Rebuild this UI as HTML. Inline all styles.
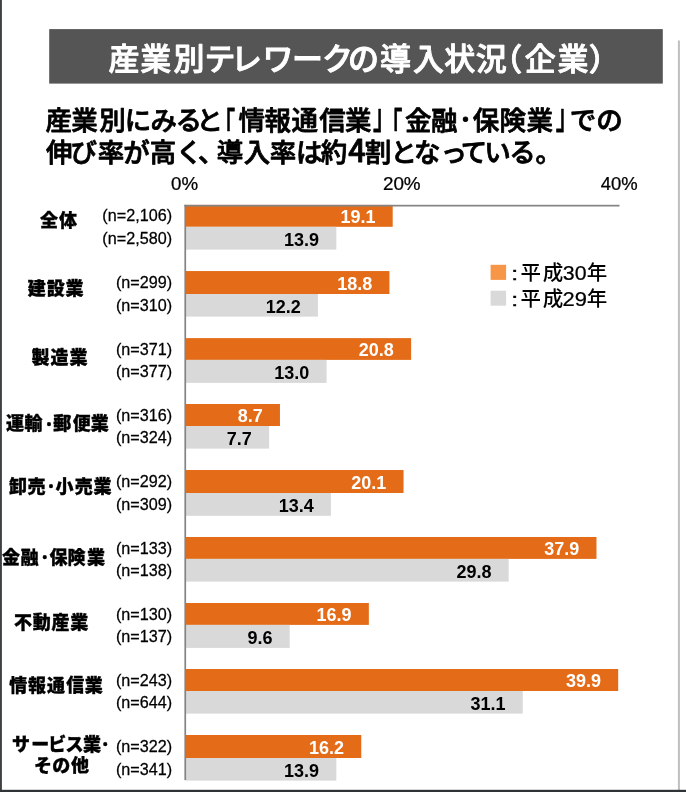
<!DOCTYPE html>
<html lang="ja"><head><meta charset="utf-8"><title>産業別テレワークの導入状況（企業）</title>
<style>
html,body{margin:0;padding:0;background:#fff;}
body{width:686px;height:792px;overflow:hidden;position:relative;}
svg{position:absolute;left:0;top:0;display:block;}
svg text{font-family:"Liberation Sans", "Noto Sans CJK JP", sans-serif;white-space:pre;}
</style></head><body>
<svg width="686" height="792" viewBox="0 0 686 792">
<rect x="49.2" y="29.1" width="613.6" height="54.5" fill="#555555"/>
<rect x="677.9" y="40.5" width="2" height="750" fill="#bfbfbf"/>
<rect x="185.65" y="204.9" width="207.04" height="21.90" fill="#e46c18"/>
<rect x="185.65" y="226.8" width="150.68" height="22.80" fill="#d9d9d9"/>
<rect x="185.65" y="271.05" width="203.79" height="22.95" fill="#e46c18"/>
<rect x="185.65" y="294.0" width="132.25" height="22.60" fill="#d9d9d9"/>
<rect x="185.65" y="338.1" width="225.47" height="21.80" fill="#e46c18"/>
<rect x="185.65" y="359.9" width="140.92" height="23.00" fill="#d9d9d9"/>
<rect x="185.65" y="404.0" width="94.31" height="22.00" fill="#e46c18"/>
<rect x="185.65" y="426.0" width="83.47" height="22.60" fill="#d9d9d9"/>
<rect x="185.65" y="470.0" width="217.88" height="23.00" fill="#e46c18"/>
<rect x="185.65" y="493.0" width="145.26" height="22.80" fill="#d9d9d9"/>
<rect x="185.65" y="537.0" width="410.84" height="21.90" fill="#e46c18"/>
<rect x="185.65" y="558.9" width="323.03" height="22.70" fill="#d9d9d9"/>
<rect x="185.65" y="603.0" width="183.20" height="21.90" fill="#e46c18"/>
<rect x="185.65" y="624.9" width="104.06" height="23.00" fill="#d9d9d9"/>
<rect x="185.65" y="669.0" width="432.52" height="22.00" fill="#e46c18"/>
<rect x="185.65" y="691.0" width="337.12" height="22.60" fill="#d9d9d9"/>
<rect x="185.65" y="735.0" width="175.61" height="23.00" fill="#e46c18"/>
<rect x="185.65" y="758.0" width="150.68" height="22.60" fill="#d9d9d9"/>
<rect x="184.4" y="204.8" width="435.1" height="1.7" fill="#848484"/>
<rect x="184.4" y="204.8" width="1.7" height="575.3" fill="#848484"/>
<rect x="490.6" y="264.8" width="15.5" height="15.1" fill="#f79646"/>
<rect x="490.6" y="290.7" width="15.5" height="15" fill="#d9d9d9"/>
<text x="108.4 140.2 173.5 204.6 231.1 262.6 292.1 321.9 348.0 379.9 412.9 444.3 475.8 491.2 524.8 557.4 588.8" y="70.3" font-size="31" font-weight="500" fill="#fff" stroke="#fff" stroke-width="0.9" stroke-linejoin="round">産業別テレワークの導入状況（企業）</text>
<text x="45.5 71.3 99.2 124.8 150.5 175.5 196.5" y="129.7" font-size="26.5" font-weight="500" fill="#000" stroke="#000" stroke-width="0.8" stroke-linejoin="round">産業別にみると</text>
<text transform="translate(213.39,137.6) scale(0.62,1)" font-size="35" font-weight="500" fill="#000" style="font-family:'Noto Sans CJK JP', 'Liberation Sans', sans-serif" stroke="#000" stroke-width="0.8" stroke-linejoin="round">「</text>
<text x="238.5 264.6 291.6 319.2 344.9" y="129.7" font-size="26.5" font-weight="500" fill="#000" stroke="#000" stroke-width="0.8" stroke-linejoin="round">情報通信業</text>
<text transform="translate(373.06,129.1) scale(0.62,1)" font-size="35" font-weight="500" fill="#000" style="font-family:'Noto Sans CJK JP', 'Liberation Sans', sans-serif" stroke="#000" stroke-width="0.8" stroke-linejoin="round">」</text>
<text transform="translate(380.84,137.6) scale(0.62,1)" font-size="35" font-weight="500" fill="#000" style="font-family:'Noto Sans CJK JP', 'Liberation Sans', sans-serif" stroke="#000" stroke-width="0.8" stroke-linejoin="round">「</text>
<text x="405.0 431.1" y="129.7" font-size="26.5" font-weight="500" fill="#000" stroke="#000" stroke-width="0.8" stroke-linejoin="round">金融</text>
<text x="455.4" y="127.3" font-size="20" font-weight="500" fill="#000" style="font-family:'Noto Sans CJK JP', 'Liberation Sans', sans-serif" stroke="#000" stroke-width="0.8" stroke-linejoin="round">・</text>
<text x="472.7 499.4 526.4" y="129.7" font-size="26.5" font-weight="500" fill="#000" stroke="#000" stroke-width="0.8" stroke-linejoin="round">保険業</text>
<text transform="translate(555.76,129.1) scale(0.62,1)" font-size="35" font-weight="500" fill="#000" style="font-family:'Noto Sans CJK JP', 'Liberation Sans', sans-serif" stroke="#000" stroke-width="0.8" stroke-linejoin="round">」</text>
<text x="569.8 596.2" y="129.7" font-size="26.5" font-weight="500" fill="#000" stroke="#000" stroke-width="0.8" stroke-linejoin="round">での</text>
<text x="45.9 70.4 97.8 123.2 149.8 176.0 198.0 216.8 243.7 269.8 296.0 320.7" y="162.0" font-size="26.5" font-weight="500" fill="#000" stroke="#000" stroke-width="0.8" stroke-linejoin="round">伸び率が高く、導入率は約</text>
<text x="348.2" y="162.3" font-size="30.5" font-weight="500" fill="#000" style="font-family:'Noto Sans CJK JP', 'Liberation Sans', sans-serif" stroke="#000" stroke-width="0.8" stroke-linejoin="round">4</text>
<text x="364.8 390.6 414.1 440.4 460.8 484.2 509.2 535.5" y="162.0" font-size="26.5" font-weight="500" fill="#000" stroke="#000" stroke-width="0.8" stroke-linejoin="round">割となっている。</text>
<text x="40.0 59.0" y="226.5" font-size="18" font-weight="900" fill="#000" stroke="#000" stroke-width="0.35">全体</text>
<text x="27.8 46.8 65.6" y="295.2" font-size="18" font-weight="900" fill="#000" stroke="#000" stroke-width="0.35">建設業</text>
<text x="31.4 50.6 69.5" y="363.6" font-size="18" font-weight="900" fill="#000" stroke="#000" stroke-width="0.35">製造業</text>
<text x="5.9 24.6" y="430.3" font-size="18" font-weight="900" fill="#000" stroke="#000" stroke-width="0.35">運輸</text>
<text x="42.2" y="428.5" font-size="13.5" font-weight="900" fill="#000" style="font-family:'Noto Sans CJK JP', 'Liberation Sans', sans-serif" stroke="#000" stroke-width="0.35">・</text>
<text x="53.2 72.7 90.7" y="430.3" font-size="18" font-weight="900" fill="#000" stroke="#000" stroke-width="0.35">郵便業</text>
<text x="8.9 27.4" y="492.7" font-size="18" font-weight="900" fill="#000" stroke="#000" stroke-width="0.35">卸売</text>
<text x="44.3" y="490.9" font-size="13.5" font-weight="900" fill="#000" style="font-family:'Noto Sans CJK JP', 'Liberation Sans', sans-serif" stroke="#000" stroke-width="0.35">・</text>
<text x="55.6 74.7 93.6" y="492.7" font-size="18" font-weight="900" fill="#000" stroke="#000" stroke-width="0.35">小売業</text>
<text x="2.0 20.5" y="563.5" font-size="18" font-weight="900" fill="#000" stroke="#000" stroke-width="0.35">金融</text>
<text x="37.9" y="561.7" font-size="13.5" font-weight="900" fill="#000" style="font-family:'Noto Sans CJK JP', 'Liberation Sans', sans-serif" stroke="#000" stroke-width="0.35">・</text>
<text x="49.5 67.6 87.0" y="563.5" font-size="18" font-weight="900" fill="#000" stroke="#000" stroke-width="0.35">保険業</text>
<text x="13.9 32.8 51.6 70.3" y="628.5" font-size="18" font-weight="900" fill="#000" stroke="#000" stroke-width="0.35">不動産業</text>
<text x="9.3 27.9 47.0 66.2 84.8" y="691.7" font-size="18" font-weight="900" fill="#000" stroke="#000" stroke-width="0.35">情報通信業</text>
<text x="11.9 31.2 48.2 65.6 83.1" y="751.0" font-size="18" font-weight="900" fill="#000" stroke="#000" stroke-width="0.35">サービス業</text>
<text x="98.5" y="749.2" font-size="13.5" font-weight="900" fill="#000" style="font-family:'Noto Sans CJK JP', 'Liberation Sans', sans-serif" stroke="#000" stroke-width="0.35">・</text>
<text x="34.1 52.2 70.9" y="772.0" font-size="18" font-weight="900" fill="#000" stroke="#000" stroke-width="0.35">その他</text>
<text x="520.6 542.7 586.7" y="279.9" font-size="20.5" font-weight="500" fill="#000" >平成年</text>
<text x="520.6 542.7 586.7" y="305.8" font-size="20.5" font-weight="500" fill="#000" >平成年</text>
<text transform="translate(171.12,189.6) scale(1.011,1)" font-size="18.5" font-weight="400" fill="#000" stroke="#000" stroke-width="0.25">0%</text>
<text transform="translate(382.92,189.6) scale(1.019,1)" font-size="18.5" font-weight="400" fill="#000" stroke="#000" stroke-width="0.25">20%</text>
<text transform="translate(600.71,189.6) scale(0.998,1)" font-size="18.5" font-weight="400" fill="#000" stroke="#000" stroke-width="0.25">40%</text>
<text transform="translate(510.93,279.7) scale(1.515,1)" font-size="17.5" font-weight="400" fill="#000" stroke="#000" stroke-width="0.25">:</text>
<text transform="translate(562.83,279.6) scale(1.065,1)" font-size="20" font-weight="400" fill="#000" stroke="#000" stroke-width="0.25">30</text>
<text transform="translate(510.93,305.6) scale(1.515,1)" font-size="17.5" font-weight="400" fill="#000" stroke="#000" stroke-width="0.25">:</text>
<text transform="translate(562.47,305.5) scale(1.098,1)" font-size="20" font-weight="400" fill="#000" stroke="#000" stroke-width="0.25">29</text>
<text transform="translate(102.37,221.4) scale(1.012,1)" font-size="16" font-weight="400" fill="#000" stroke="#000" stroke-width="0.25">(n=2,106)</text>
<text transform="translate(102.37,243.7) scale(1.012,1)" font-size="16" font-weight="400" fill="#000" stroke="#000" stroke-width="0.25">(n=2,580)</text>
<text x="375.5" y="223.3" text-anchor="end" font-size="18" font-weight="700" fill="#fff">19.1</text>
<text x="319.1" y="245.6" text-anchor="end" font-size="18" font-weight="700" fill="#000">13.9</text>
<text transform="translate(115.88,288.0) scale(1.012,1)" font-size="16" font-weight="400" fill="#000" stroke="#000" stroke-width="0.25">(n=299)</text>
<text transform="translate(115.88,310.8) scale(1.012,1)" font-size="16" font-weight="400" fill="#000" stroke="#000" stroke-width="0.25">(n=310)</text>
<text x="372.2" y="289.9" text-anchor="end" font-size="18" font-weight="700" fill="#fff">18.8</text>
<text x="300.7" y="312.7" text-anchor="end" font-size="18" font-weight="700" fill="#000">12.2</text>
<text transform="translate(115.88,354.5) scale(1.012,1)" font-size="16" font-weight="400" fill="#000" stroke="#000" stroke-width="0.25">(n=371)</text>
<text transform="translate(115.88,376.9) scale(1.012,1)" font-size="16" font-weight="400" fill="#000" stroke="#000" stroke-width="0.25">(n=377)</text>
<text x="393.9" y="356.4" text-anchor="end" font-size="18" font-weight="700" fill="#fff">20.8</text>
<text x="309.4" y="378.8" text-anchor="end" font-size="18" font-weight="700" fill="#000">13.0</text>
<text transform="translate(115.88,420.5) scale(1.012,1)" font-size="16" font-weight="400" fill="#000" stroke="#000" stroke-width="0.25">(n=316)</text>
<text transform="translate(115.88,442.8) scale(1.012,1)" font-size="16" font-weight="400" fill="#000" stroke="#000" stroke-width="0.25">(n=324)</text>
<text x="262.8" y="422.4" text-anchor="end" font-size="18" font-weight="700" fill="#fff">8.7</text>
<text x="251.9" y="444.7" text-anchor="end" font-size="18" font-weight="700" fill="#000">7.7</text>
<text transform="translate(115.88,487.0) scale(1.012,1)" font-size="16" font-weight="400" fill="#000" stroke="#000" stroke-width="0.25">(n=292)</text>
<text transform="translate(115.88,509.9) scale(1.012,1)" font-size="16" font-weight="400" fill="#000" stroke="#000" stroke-width="0.25">(n=309)</text>
<text x="386.3" y="488.9" text-anchor="end" font-size="18" font-weight="700" fill="#fff">20.1</text>
<text x="313.7" y="511.8" text-anchor="end" font-size="18" font-weight="700" fill="#000">13.4</text>
<text transform="translate(115.88,553.5) scale(1.012,1)" font-size="16" font-weight="400" fill="#000" stroke="#000" stroke-width="0.25">(n=133)</text>
<text transform="translate(115.88,575.8) scale(1.012,1)" font-size="16" font-weight="400" fill="#000" stroke="#000" stroke-width="0.25">(n=138)</text>
<text x="579.3" y="555.4" text-anchor="end" font-size="18" font-weight="700" fill="#fff">37.9</text>
<text x="491.5" y="577.6" text-anchor="end" font-size="18" font-weight="700" fill="#000">29.8</text>
<text transform="translate(115.88,619.5) scale(1.012,1)" font-size="16" font-weight="400" fill="#000" stroke="#000" stroke-width="0.25">(n=130)</text>
<text transform="translate(115.88,641.9) scale(1.012,1)" font-size="16" font-weight="400" fill="#000" stroke="#000" stroke-width="0.25">(n=137)</text>
<text x="351.6" y="621.4" text-anchor="end" font-size="18" font-weight="700" fill="#fff">16.9</text>
<text x="272.5" y="643.8" text-anchor="end" font-size="18" font-weight="700" fill="#000">9.6</text>
<text transform="translate(115.88,685.5) scale(1.012,1)" font-size="16" font-weight="400" fill="#000" stroke="#000" stroke-width="0.25">(n=243)</text>
<text transform="translate(115.88,707.8) scale(1.012,1)" font-size="16" font-weight="400" fill="#000" stroke="#000" stroke-width="0.25">(n=644)</text>
<text x="601.0" y="687.4" text-anchor="end" font-size="18" font-weight="700" fill="#fff">39.9</text>
<text x="505.6" y="709.7" text-anchor="end" font-size="18" font-weight="700" fill="#000">31.1</text>
<text transform="translate(115.88,752.0) scale(1.012,1)" font-size="16" font-weight="400" fill="#000" stroke="#000" stroke-width="0.25">(n=322)</text>
<text transform="translate(115.88,774.8) scale(1.012,1)" font-size="16" font-weight="400" fill="#000" stroke="#000" stroke-width="0.25">(n=341)</text>
<text x="344.1" y="753.9" text-anchor="end" font-size="18" font-weight="700" fill="#fff">16.2</text>
<text x="319.1" y="776.7" text-anchor="end" font-size="18" font-weight="700" fill="#000">13.9</text>
<rect x="0" y="0" width="1.9" height="792" fill="#3c4043"/>
<rect x="0" y="789.8" width="686" height="2.2" fill="#303336"/>
</svg>
</body></html>
